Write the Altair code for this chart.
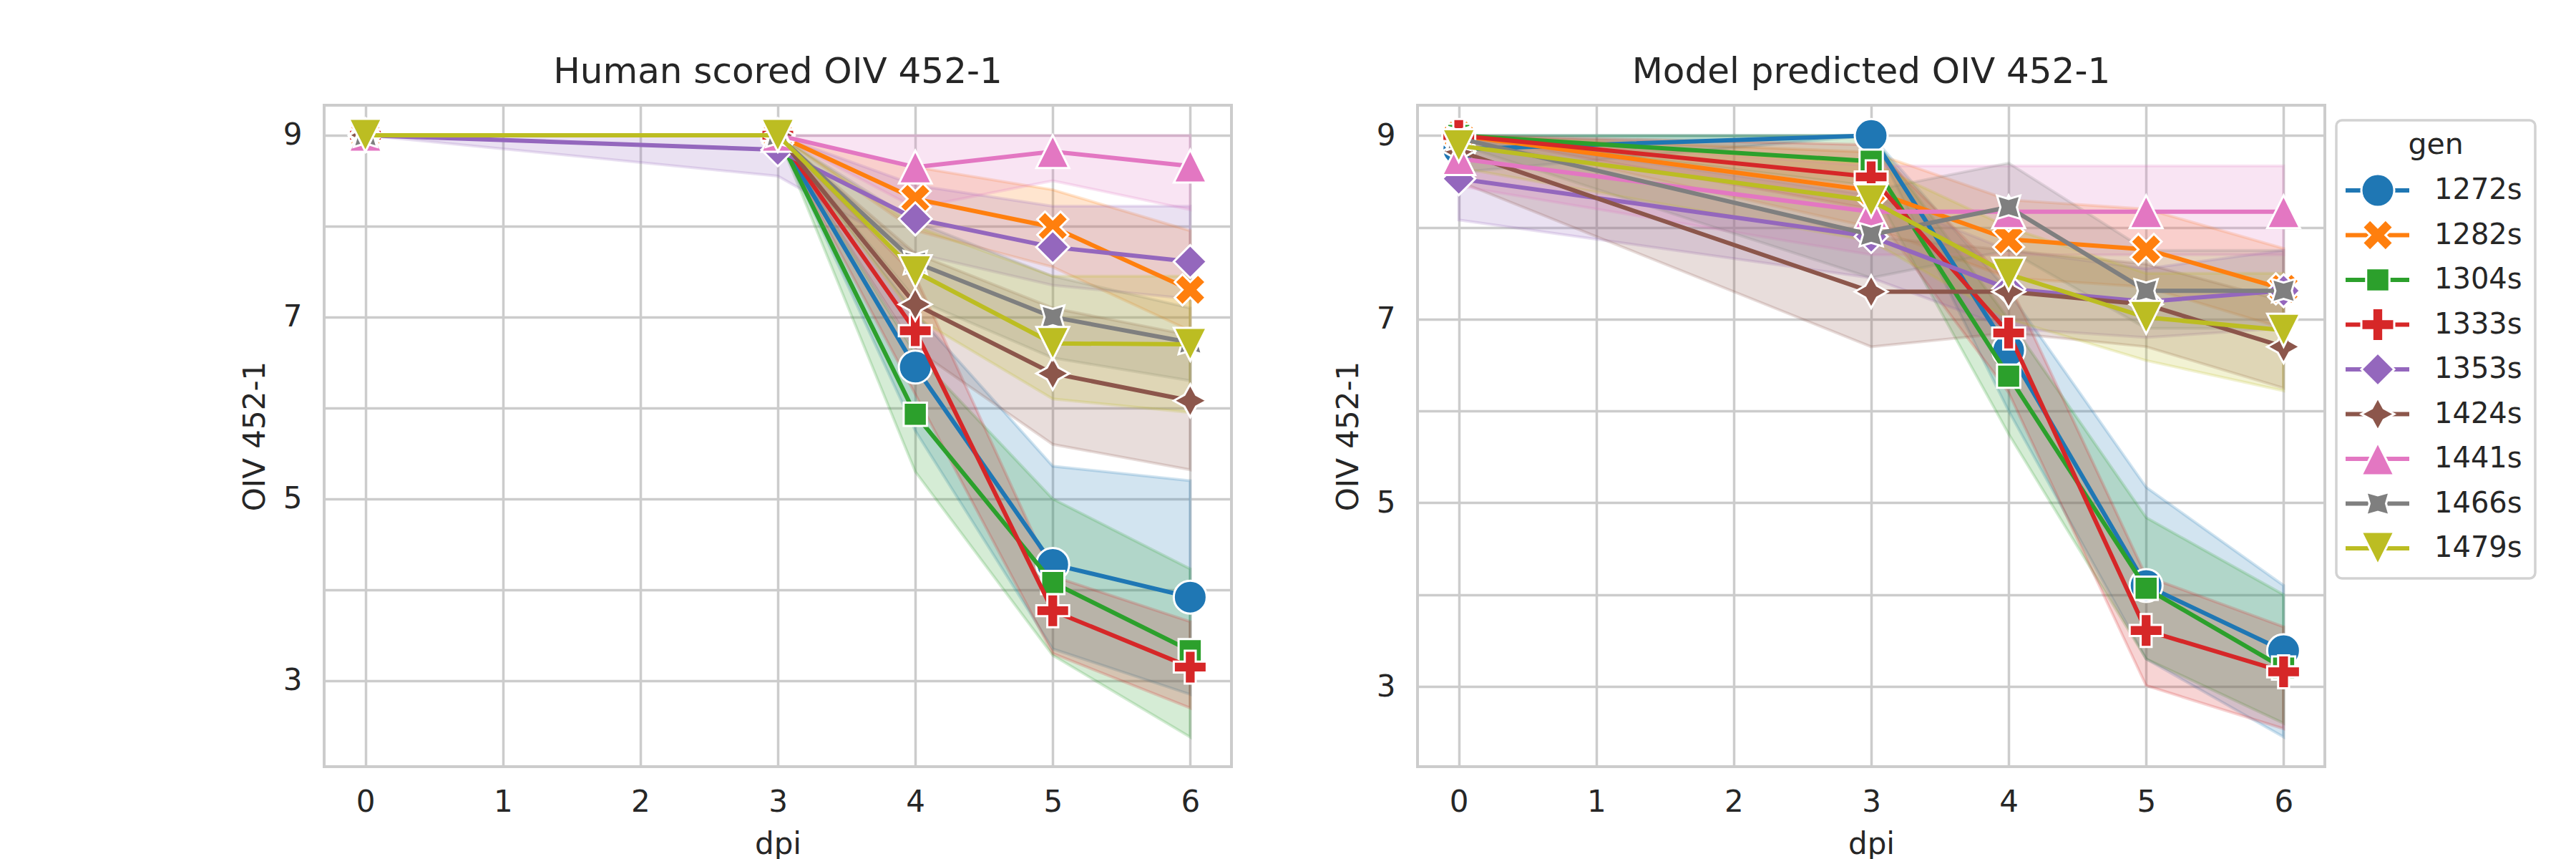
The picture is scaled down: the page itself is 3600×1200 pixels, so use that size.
import altair as alt
import pandas as pd

gens = ["1272s", "1282s", "1304s", "1333s", "1353s", "1424s", "1441s", "1466s", "1479s"]
dpi = [0, 3, 4, 5, 6]
colors = ["#1f77b4", "#ff7f0e", "#2ca02c", "#d62728", "#9467bd",
          "#8c564b", "#e377c2", "#7f7f7f", "#bcbd22"]
# seaborn default marker sequence: o, X, square, P, diamond, 4-star, ^, rotated 4-star, v
shapes = [
    "circle",
    "M0.471,-0.943L0.943,-0.471L0.471,0L0.943,0.471L0.471,0.943L0,0.471L-0.471,0.943L-0.943,0.471L-0.471,0L-0.943,-0.471L-0.471,-0.943L0,-0.471Z",
    "M-0.707,-0.707L0.707,-0.707L0.707,0.707L-0.707,0.707Z",
    "M-0.333,-1L0.333,-1L0.333,-0.333L1,-0.333L1,0.333L0.333,0.333L0.333,1L-0.333,1L-0.333,0.333L-1,0.333L-1,-0.333L-0.333,-0.333Z",
    "M0,-1L1,0L0,1L-1,0Z",
    "M0,-1L0.354,-0.354L1,0L0.354,0.354L0,1L-0.354,0.354L-1,0L-0.354,-0.354Z",
    "M0,-1L-1,1L1,1Z",
    "M0.707,-0.707L0.5,0L0.707,0.707L0,0.5L-0.707,0.707L-0.5,0L-0.707,-0.707L0,-0.5Z",
    "M0,1L-1,-1L1,-1Z",
]

# Human scored OIV 452-1 (rows follow gens, columns follow dpi)
human_mean = [
    [9, 9, 6.45, 4.28, 3.92],
    [9, 9, 8.30, 7.99, 7.30],
    [9, 9, 5.93, 4.08, 3.33],
    [9, 9, 6.85, 3.77, 3.15],
    [9, 8.84, 8.08, 7.77, 7.61],
    [9, 9, 7.14, 6.38, 6.08],
    [9, 9, 8.65, 8.82, 8.66],
    [9, 9, 7.60, 7.00, 6.72],
    [9, 9, 7.50, 6.71, 6.70],
]
human_lo = [
    [9, 9, 5.75, 3.35, 2.85],
    [9, 9, 7.95, 7.55, 6.85],
    [9, 9, 5.30, 3.28, 2.38],
    [9, 9, 6.15, 3.30, 2.70],
    [9, 8.55, 7.70, 7.35, 7.20],
    [9, 9, 6.65, 5.60, 5.32],
    [9, 9, 8.20, 8.50, 8.18],
    [9, 9, 7.20, 6.55, 6.30],
    [9, 9, 7.00, 6.10, 5.95],
]
human_hi = [
    [9, 9, 7.05, 5.36, 5.20],
    [9, 9, 8.65, 8.40, 7.95],
    [9, 9, 6.60, 5.00, 4.23],
    [9, 9, 7.45, 4.15, 3.65],
    [9, 9, 8.45, 8.22, 8.22],
    [9, 9, 7.70, 7.10, 6.80],
    [9, 9, 9, 9, 9],
    [9, 9, 8.05, 7.45, 7.10],
    [9, 9, 8.00, 7.45, 7.45],
]

# Model predicted OIV 452-1
model_mean = [
    [8.85, 9.00, 6.66, 4.10, 3.39],
    [9.00, 8.40, 7.87, 7.76, 7.33],
    [9.00, 8.72, 6.38, 4.07, 3.20],
    [9.00, 8.55, 6.85, 3.61, 3.16],
    [8.53, 7.90, 7.33, 7.19, 7.31],
    [8.83, 7.30, 7.30, 7.16, 6.70],
    [8.75, 8.17, 8.17, 8.17, 8.17],
    [8.97, 7.92, 8.22, 7.31, 7.31],
    [8.89, 8.29, 7.49, 7.02, 6.88],
]
model_lo = [
    [8.60, 9.00, 6.00, 3.30, 2.45],
    [9.00, 8.00, 7.45, 7.35, 6.90],
    [9.00, 8.45, 5.75, 3.30, 2.60],
    [9.00, 8.20, 6.20, 3.01, 2.54],
    [8.08, 7.45, 6.90, 6.80, 6.90],
    [8.50, 6.70, 6.85, 6.70, 6.25],
    [8.45, 7.70, 7.70, 7.70, 7.70],
    [8.90, 7.45, 7.75, 6.90, 6.90],
    [8.65, 7.85, 7.00, 6.55, 6.22],
]
model_hi = [
    [9.00, 9.00, 7.30, 5.17, 4.10],
    [9.00, 8.82, 8.30, 8.20, 7.77],
    [9.00, 9.00, 7.00, 4.84, 4.00],
    [9.00, 8.90, 7.40, 4.20, 3.65],
    [9.00, 8.35, 7.75, 7.55, 7.75],
    [9.00, 7.90, 7.75, 7.60, 7.20],
    [9.00, 8.67, 8.67, 8.67, 8.67],
    [9.00, 8.40, 8.70, 7.75, 7.75],
    [9.00, 8.70, 8.00, 7.50, 7.50],
]

FONT = "DejaVu Sans"
TXT = "#262626"
W, H = 1268, 924


def make_df(mean, lo, hi):
    rows = []
    for gi, g in enumerate(gens):
        for k, d in enumerate(dpi):
            rows.append({"gen": g, "dpi": d, "mean": mean[gi][k],
                         "lo": lo[gi][k], "hi": hi[gi][k]})
    return pd.DataFrame(rows)


color = alt.Color("gen:N", scale=alt.Scale(domain=gens, range=colors), legend=None)
stroke = alt.Stroke("gen:N", scale=alt.Scale(domain=gens, range=colors), legend=None)
shape = alt.Shape("gen:N", scale=alt.Scale(domain=gens, range=shapes), legend=None)


def panel(df, title, ydom):
    x = alt.X("dpi:Q",
              scale=alt.Scale(domain=[-0.3, 6.3], nice=False, zero=False),
              axis=alt.Axis(values=[0, 1, 2, 3, 4, 5, 6], title="dpi",
                            labelPadding=29, titlePadding=18, labelFlush=False))
    yaxis = alt.Axis(values=[3, 4, 5, 6, 7, 8, 9], title="OIV 452-1",
                     labelExpr="datum.value % 2 == 1 ? datum.label : ''",
                     labelPadding=31, titlePadding=17, labelFlush=False)
    yscale = alt.Scale(domain=ydom, nice=False, zero=False)
    base = alt.Chart(df)
    band = base.mark_area(fillOpacity=0.2, strokeOpacity=0.2, strokeWidth=4).encode(
        x=x,
        y=alt.Y("lo:Q", scale=yscale, axis=yaxis),
        y2="hi:Q",
        color=color,
        stroke=stroke,
    )
    layers = [band]
    y = alt.Y("mean:Q", scale=yscale, axis=yaxis)
    for g in gens:
        sub = base.transform_filter(alt.datum.gen == g)
        layers.append(sub.mark_line(strokeWidth=6).encode(x=x, y=y, color=color))
        layers.append(sub.mark_point(filled=True, size=2116, stroke="white",
                                     strokeWidth=3, opacity=1).encode(
            x=x, y=y, color=color, shape=shape))
    return alt.layer(*layers).properties(
        width=W, height=H,
        title=alt.TitleParams(title, font=FONT, fontSize=50, fontWeight="normal",
                              color=TXT, offset=21))


left = panel(make_df(human_mean, human_lo, human_hi), "Human scored OIV 452-1", [2.055, 9.33])
right_main = panel(make_df(model_mean, model_lo, model_hi), "Model predicted OIV 452-1", [2.127, 9.33])

# custom legend, drawn to the right of the second panel
legend_df = pd.DataFrame({"gen": gens})
legend_title = pd.DataFrame({"t": ["gen"]})
ly = alt.Y("gen:N", scale=alt.Scale(type="point", domain=gens, range=[119, 619], padding=0),
           axis=None)
box = alt.Chart(legend_title).mark_rect(
    fill="white", fillOpacity=0.8, stroke="#d2d2d2", strokeWidth=3.5, cornerRadius=8
).encode(x=alt.value(W + 16), x2=alt.value(W + 294), y=alt.value(21), y2=alt.value(661))
ltitle = alt.Chart(legend_title).mark_text(
    font=FONT, fontSize=41, color=TXT, align="center", baseline="middle"
).encode(x=alt.value(W + 155), y=alt.value(56), text="t:N")
lrule = alt.Chart(legend_df).mark_rule(strokeWidth=6).encode(
    x=alt.value(W + 29), x2=alt.value(W + 118), y=ly, color=color)
lpoint = alt.Chart(legend_df).mark_point(filled=True, size=2116, stroke="white",
                                         strokeWidth=3, opacity=1).encode(
    x=alt.value(W + 74), y=ly, color=color, shape=shape)
ltext = alt.Chart(legend_df).mark_text(
    font=FONT, fontSize=40, color=TXT, align="left", baseline="middle"
).encode(x=alt.value(W + 153), y=ly, text="gen:N")
legend = alt.layer(box, ltitle, lrule, lpoint, ltext)

right = alt.layer(right_main, legend).resolve_scale(y="independent")

chart = alt.hconcat(left, right, spacing=138).resolve_scale(
    y="independent", x="independent"
).properties(
    padding={"left": 325, "top": 66, "right": 0, "bottom": 0},
    background="white",
).configure_view(
    stroke="#cccccc", strokeWidth=4
).configure_axis(
    grid=True, gridColor="#cccccc", gridWidth=3.5, domain=False, ticks=False,
    labelFont=FONT, labelFontSize=42, labelColor=TXT,
    titleFont=FONT, titleFontSize=42, titleFontWeight="normal", titleColor=TXT,
)

chart.save("out.html", embed_options={"renderer": "svg", "actions": False})
